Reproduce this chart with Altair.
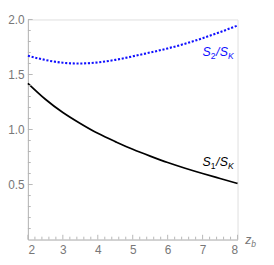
import altair as alt
import pandas as pd

# data
z = [2.0, 2.5, 3.0, 3.5, 4.0, 4.5, 5.0, 5.5, 6.0, 6.5, 7.0, 7.5, 8.0]
s1 = [1.42, 1.275, 1.155, 1.055, 0.965, 0.89, 0.82, 0.758, 0.70, 0.648, 0.60, 0.555, 0.51]
s2 = [1.67, 1.632, 1.607, 1.600, 1.610, 1.633, 1.665, 1.70, 1.737, 1.78, 1.83, 1.885, 1.945]

x_major = [2, 3, 4, 5, 6, 7, 8]
x_minor = [2.2, 2.4, 2.6, 2.8, 3.2, 3.4, 3.6, 3.8, 4.2, 4.4, 4.6, 4.8,
           5.2, 5.4, 5.6, 5.8, 6.2, 6.4, 6.6, 6.8, 7.2, 7.4, 7.6, 7.8]
y_major = [0.5, 1.0, 1.5, 2.0]
y_minor = [0.1, 0.2, 0.3, 0.4, 0.6, 0.7, 0.8, 0.9, 1.1, 1.2, 1.3, 1.4,
           1.6, 1.7, 1.8, 1.9]

label1_pos = (7.0, 0.664)
label2_pos = (7.0, 1.665)

W, H = 221, 232
FONT = "Liberation Sans"
AXIS_COL = "#b4b4b4"
LABEL_COL = "#777777"

xs = alt.Scale(domain=[2, 8], nice=False, zero=False)
ys = alt.Scale(domain=[0, 2], nice=False, zero=False)

x_axis = alt.Axis(values=x_major, title=None, grid=False, ticks=False,
                  domainColor=AXIS_COL, domainWidth=1, labelColor=LABEL_COL,
                  labelFont=FONT, labelFontSize=12.5, labelPadding=5, format="d")
y_axis = alt.Axis(values=y_major, title=None, grid=False, ticks=False,
                  domainColor=AXIS_COL, domainWidth=1, labelColor=LABEL_COL,
                  labelFont=FONT, labelFontSize=12.5, labelPadding=4, format=".1f")

df = pd.DataFrame({"z": z, "s1": s1, "s2": s2})

X = alt.X("z:Q", scale=xs, axis=x_axis)

line1 = alt.Chart(df).mark_line(color="black", strokeWidth=1.8, interpolate="natural").encode(
    x=X, y=alt.Y("s1:Q", scale=ys, axis=y_axis))
line2 = alt.Chart(df).mark_line(color="#1010ff", strokeWidth=2.2, strokeDash=[2.2, 1.8],
                                interpolate="natural").encode(
    x=X, y=alt.Y("s2:Q", scale=ys, axis=y_axis))

layers = [line1, line2]

# inward ticks
def xticks(vals, ln):
    d = pd.DataFrame({"v": vals})
    return alt.Chart(d).mark_rule(color=AXIS_COL, strokeWidth=1).encode(
        x=alt.X("v:Q", scale=xs, axis=x_axis), y=alt.value(H), y2=alt.value(H - ln))

def yticks(vals, ln):
    d = pd.DataFrame({"v": vals})
    return alt.Chart(d).mark_rule(color=AXIS_COL, strokeWidth=1).encode(
        y=alt.Y("v:Q", scale=ys, axis=y_axis), x=alt.value(0), x2=alt.value(ln))

layers += [xticks(x_major, 5), xticks(x_minor, 3), yticks(y_major, 5), yticks(y_minor, 3)]

# composed labels  S_1/S_K and S_2/S_K
def piece(pos, text, dx, dy, size, color, italic=True):
    d = pd.DataFrame({"x": [pos[0]], "y": [pos[1]], "t": [text]})
    return alt.Chart(d).mark_text(align="left", baseline="alphabetic", dx=dx, dy=dy,
                                  fontSize=size, font=FONT, color=color,
                                  fontStyle="italic" if italic else "normal").encode(
        x=alt.X("x:Q", scale=xs, axis=x_axis), y=alt.Y("y:Q", scale=ys, axis=y_axis), text="t:N")

def label(pos, sub, color):
    return [piece(pos, "S", 0, 0, 13, color),
            piece(pos, sub, 8.6, 3, 9, color, italic=False),
            piece(pos, "/", 14.2, 0, 13, color),
            piece(pos, "S", 18.2, 0, 13, color),
            piece(pos, "K", 26.8, 3, 9, color)]

layers += label(label1_pos, "1", "black")
layers += label(label2_pos, "2", "#1010ff")

# axis title z_b
layers += [piece((8, 0), "z", 8, 5, 13, LABEL_COL),
           piece((8, 0), "b", 14.5, 8, 9, LABEL_COL)]

chart = alt.layer(*layers).properties(
    width=W, height=H,
    autosize=alt.AutoSizeParams(type="none"),
    padding={"left": 21, "top": 5, "right": 30, "bottom": 25},
).configure_view(stroke=None).configure(background="white")

chart.save("out.html", embed_options={"renderer": "svg", "actions": False})
